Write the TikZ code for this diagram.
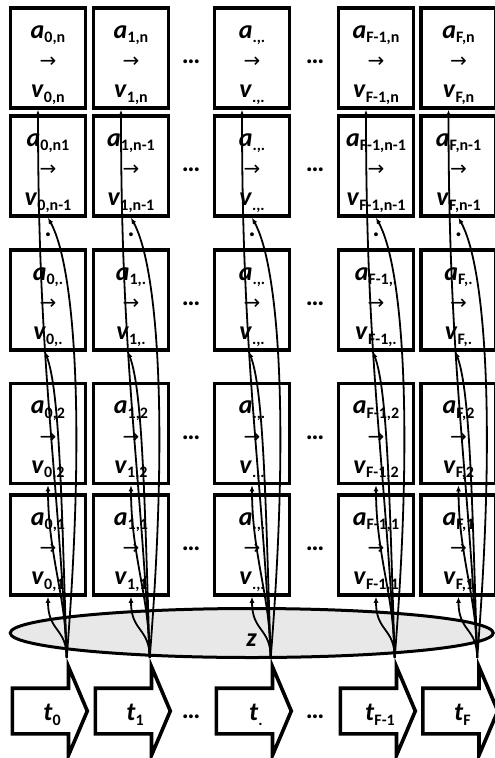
\documentclass[tikz,border=0pt]{standalone}
\usepackage{fontspec}
\setmainfont{Carlito}
\newfontfamily\arrowfont{DejaVu Sans}
\usetikzlibrary{arrows.meta,shapes.geometric,shapes.arrows}
\definecolor{zfill}{gray}{0.91}

% a_{i,j} style label, bold, subscript lowered
\newcommand{\lbl}[2]{\textit{#1}\raisebox{-4.5pt}{\fontsize{16}{16}\selectfont #2}}
\newcommand{\cellt}[2]{\rule{0pt}{26.5pt}\lbl{a}{#1}\\{\arrowfont\mdseries\fontsize{20}{20}\selectfont →}\\\lbl{v}{#2}\rule[-7pt]{0pt}{7pt}}

\begin{document}
\begin{tikzpicture}[x=1pt, y=-1pt,
  font=\fontsize{26}{29.75}\selectfont\bfseries,
  cellbox/.style={draw, line width=3.6pt, minimum width=75pt, minimum height=100pt,
    inner sep=0pt, align=center},
  tstep/.style={draw, single arrow, line width=3.6pt, minimum height=75pt, anchor=tail,
    single arrow head extend=21.5pt, single arrow tip angle=134, inner xsep=0pt, inner ysep=10.5pt,
    text height=20pt, text depth=1pt, line join=miter, execute at begin node={\hspace*{14pt}}},
  zone/.style={draw, ellipse, line width=3pt, fill=zfill, minimum width=483pt, minimum height=49pt,
    inner sep=0pt, text height=27pt, text depth=0pt},
  gap/.style={inner sep=0pt},
  link/.style={-{Latex[length=6pt,width=5pt]}, line width=1.8pt},
  feed1/.style={to path={.. controls +(0,-30) and +(0,35) .. (\tikztotarget)}},
  feed2/.style={to path={.. controls +(0,-60) and +(0,70) .. (\tikztotarget)}},
  feedx/.style={to path={.. controls +(-5,-150) and +(15,40) .. (\tikztotarget)}},
  feedm/.style={to path={.. controls +(20,-250) and +(25,45) .. (\tikztotarget)}},
  feedn/.style={to path={.. controls +(-10,-200) and +(0,250) .. (\tikztotarget)}}
]
\useasboundingbox (0,0) rectangle (495,758);

% column 0
\node[cellbox] (c0n) at (48,58) {\cellt{0,n}{0,n}};
\node[cellbox] (c0m) at (48,166) {\cellt{0,n1}{0,n-1}};
\node[cellbox] (c0x) at (48,300) {\cellt{0,.}{0,.}};
\node[cellbox] (c02) at (48,433.5) {\cellt{0,2}{0,2}};
\node[cellbox] (c01) at (48,545) {\cellt{0,1}{0,1}};
% column 1
\node[cellbox] (c1n) at (131,58) {\cellt{1,n}{1,n}};
\node[cellbox] (c1m) at (131,166) {\cellt{1,n-1}{1,n-1}};
\node[cellbox] (c1x) at (131,300) {\cellt{1,.}{1,.}};
\node[cellbox] (c12) at (131,433.5) {\cellt{1,2}{1,2}};
\node[cellbox] (c11) at (131,545) {\cellt{1,1}{1,1}};
% column .
\node[cellbox] (cdn) at (252,58) {\cellt{.,.}{.,.}};
\node[cellbox] (cdm) at (252,166) {\cellt{.,.}{.,.}};
\node[cellbox] (cdx) at (252,300) {\cellt{.,.}{.,.}};
\node[cellbox] (cd2) at (252,433.5) {\cellt{.,.}{.,.}};
\node[cellbox] (cd1) at (252,545) {\cellt{.,.}{.,.}};
% column F-1
\node[cellbox] (cen) at (376,58) {\cellt{F-1,n}{F-1,n}};
\node[cellbox] (cem) at (376,166) {\cellt{F-1,n-1}{F-1,n-1}};
\node[cellbox] (cex) at (376,300) {\cellt{F-1,.}{F-1,.}};
\node[cellbox] (ce2) at (376,433.5) {\cellt{F-1,2}{F-1,2}};
\node[cellbox] (ce1) at (376,545) {\cellt{F-1,1}{F-1,1}};
% column F
\node[cellbox] (cfn) at (458.5,58) {\cellt{F,n}{F,n}};
\node[cellbox] (cfm) at (458.5,166) {\cellt{F,n-1}{F,n-1}};
\node[cellbox] (cfx) at (458.5,300) {\cellt{F,.}{F,.}};
\node[cellbox] (cf2) at (458.5,433.5) {\cellt{F,2}{F,2}};
\node[cellbox] (cf1) at (458.5,545) {\cellt{F,1}{F,1}};

% dots between columns
\node[gap] (g1n) at (191,62) {…};
\node[gap] (g1m) at (191,170) {…};
\node[gap] (g1x) at (191,304) {…};
\node[gap] (g12) at (191,437.5) {…};
\node[gap] (g11) at (191,549) {…};
\node[gap] (g1t) at (191,717) {…};
\node[gap] (g2n) at (315,62) {…};
\node[gap] (g2m) at (315,170) {…};
\node[gap] (g2x) at (315,304) {…};
\node[gap] (g22) at (315,437.5) {…};
\node[gap] (g21) at (315,549) {…};
\node[gap] (g2t) at (315,717) {…};
\node[gap] (v0) at (48,235) {.};
\node[gap] (v1) at (131,235) {.};
\node[gap] (vd) at (252,235) {.};
\node[gap] (ve) at (376,235) {.};
\node[gap] (vf) at (458.5,235) {.};

% latent variable
\node[zone] (z) at (251.7,633) {\textit{z}};

% time steps
\node[tstep] (t0) at (10.5,711) {\lbl{t}{0}};
\node[tstep] (t1) at (93.5,711) {\lbl{t}{1}};
\node[tstep] (td) at (214.5,711) {\lbl{t}{.}};
\node[tstep] (te) at (338.5,711) {\lbl{t}{F-1}};
\node[tstep] (tf) at (421,711) {\lbl{t}{F}};

\draw[link] (t0.before tip) to[feed1] (c01.south);
\draw[link] (t0.before tip) to[feed2] (c02.south);
\draw[link] (t0.before tip) to[feedx] ([xshift=-3pt]c0x.south);
\draw[link] (t0.before tip) to[feedm] (c0m.south);
\draw[link] (t0.before tip) to[feedn] ([xshift=-10pt]c0n.south);
\draw[link] (t1.before tip) to[feed1] (c11.south);
\draw[link] (t1.before tip) to[feed2] (c12.south);
\draw[link] (t1.before tip) to[feedx] ([xshift=-3pt]c1x.south);
\draw[link] (t1.before tip) to[feedm] (c1m.south);
\draw[link] (t1.before tip) to[feedn] ([xshift=-10pt]c1n.south);
\draw[link] (td.before tip) to[feed1] (cd1.south);
\draw[link] (td.before tip) to[feed2] (cd2.south);
\draw[link] (td.before tip) to[feedx] ([xshift=-3pt]cdx.south);
\draw[link] (td.before tip) to[feedm] (cdm.south);
\draw[link] (td.before tip) to[feedn] ([xshift=-10pt]cdn.south);
\draw[link] (te.before tip) to[feed1] (ce1.south);
\draw[link] (te.before tip) to[feed2] (ce2.south);
\draw[link] (te.before tip) to[feedx] ([xshift=-3pt]cex.south);
\draw[link] (te.before tip) to[feedm] (cem.south);
\draw[link] (te.before tip) to[feedn] ([xshift=-10pt]cen.south);
\draw[link] (tf.before tip) to[feed1] (cf1.south);
\draw[link] (tf.before tip) to[feed2] (cf2.south);
\draw[link] (tf.before tip) to[feedx] ([xshift=-3pt]cfx.south);
\draw[link] (tf.before tip) to[feedm] (cfm.south);
\draw[link] (tf.before tip) to[feedn] ([xshift=-10pt]cfn.south);
\end{tikzpicture}
\end{document}
